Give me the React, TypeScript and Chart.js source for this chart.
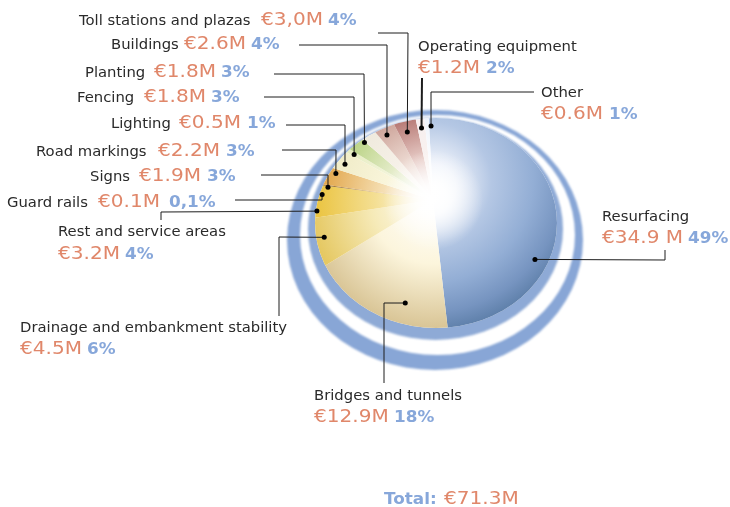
import React, { useEffect, useRef } from "react";
import { Chart, registerables } from "chart.js";

Chart.register(...registerables);

const categories = ["Resurfacing","Bridges and tunnels","Drainage and embankment stability","Rest and service areas","Guard rails","Signs","Road markings","Lighting","Fencing","Planting","Buildings","Toll stations and plazas","Operating equipment","Other"];
const amounts = [34.9,12.9,4.5,3.2,0.1,1.9,2.2,0.5,1.8,1.8,2.6,3.0,1.2,0.6];
const amountLabels = ["€34.9 M","€12.9M","€4.5M","€3.2M","€0.1M","€1.9M","€2.2M","€0.5M","€1.8M","€1.8M","€2.6M","€3,0M","€1.2M","€0.6M"];
const percentLabels = ["49%","18%","6%","4%","0,1%","3%","3%","1%","3%","3%","4%","4%","2%","1%"];
const totalLabel = "Total:";
const totalAmount = "€71.3M";

// styling: mid and rim colours of each wedge
const midColors = ["#b4c7e4","#fcf5dc","#f6eab8","#f4df94","#dcb87c","#f4dcae","#f9f5da","#f3f4da","#e6edcc","#f7f1e9","#eedcd4","#e8cdc8","#f9f2f0","#fbfcfe"];
const rimColors = ["#53769f","#d9c596","#e5c862","#ebc544","#7a4f1a","#e3a950","#f0ecc8","#e6ecc0","#bcd488","#efeadd","#cfa79d","#b97d78","#f6eeee","#eef3fb"];

type Leader = { nudge: number; r: number; path: number[][]; w?: number };
const leaders: Leader[] = [
  { nudge: 35, r: 118, path: [[665,260],[665,250]] },
  { nudge: -11, r: 106.7, path: [[384,303],[384,383]] },
  { nudge: 1, r: 115, path: [[279,237],[279,316]] },
  { nudge: -5, r: 116.6, path: [[161,212],[161,220]] },
  { nudge: -5, r: 111, path: [[322,200],[235,200]] },
  { nudge: -6, r: 105.8, path: [[328,175],[261,175]] },
  { nudge: -8, r: 100.7, path: [[336,150],[282,150]] },
  { nudge: -8, r: 95, path: [[345,125],[286,125]] },
  { nudge: -6, r: 91, path: [[354,97],[264,97]] },
  { nudge: -5, r: 89.5, path: [[364,74],[274,74]] },
  { nudge: -1.5, r: 79.6, path: [[387,45],[299,45]] },
  { nudge: -1, r: 72.8, path: [[408,33],[378,33]] },
  { nudge: 0, r: 72.8, path: [[422,78]], w: 2 },
  { nudge: 3, r: 74, path: [[431,92],[534,92]] },
];

// label layout: name x,y ; amount x,y ; percent x
const labelPos = [
  [602,221,602,243,688],
  [314,400,314,422,394],
  [20,332,20,354,87],
  [58,236,58,259,125],
  [7,207,98,207,169],
  [90,181,139,181,207],
  [36,156,158,156,226],
  [111,128,179,128,247],
  [77,102,144,102,211],
  [85,77,154,77,221],
  [111,49,184,49,251],
  [79,25,261,25,328],
  [418,51,418,73,486],
  [541,97,541,119,609],
];

const PIE = { cx: 436, cy: 223, rx: 121, ry: 105 };
const NAME_COLOR = "#2a2a2a";
const AMOUNT_COLOR = "#e0876a";
const PERCENT_COLOR = "#87a7da";

function rimDistance(ax: number, ay: number, angle: number) {
  const dx = Math.cos(angle), dy = Math.sin(angle);
  const ox = (ax - PIE.cx) / PIE.rx, oy = (ay - PIE.cy) / PIE.ry;
  const px = dx / PIE.rx, py = dy / PIE.ry;
  const a = px * px + py * py, b = 2 * (ox * px + oy * py), c = ox * ox + oy * oy - 1;
  return (-b + Math.sqrt(b * b - 4 * a * c)) / (2 * a);
}

function seg(ctx: CanvasRenderingContext2D, text: string, x: number, y: number, font: string, color: string, sx: number) {
  ctx.save();
  ctx.font = font;
  ctx.fillStyle = color;
  ctx.textBaseline = "alphabetic";
  ctx.textAlign = "left";
  ctx.translate(x, y);
  ctx.scale(sx, 1);
  ctx.fillText(text, 0, 0);
  ctx.restore();
}

const NAME_FONT = '14.8px "DejaVu Sans"';
const AMOUNT_FONT = '17px "DejaVu Sans"';
const PERCENT_FONT = 'bold 16.5px "DejaVu Sans"';
const NAME_SX = 1.0;
const AMOUNT_SX = 1.18;
const PERCENT_SX = 1.02;

const artPlugin = {
  id: "art",
  beforeDatasetsDraw(chart: any) {
    const ctx: CanvasRenderingContext2D = chart.ctx;
    const ell = (x: number, y: number, rx: number, ry: number, c: string) => {
      ctx.fillStyle = c;
      ctx.beginPath();
      ctx.ellipse(x, y, rx, ry, 0, 0, Math.PI * 2);
      ctx.fill();
    };
    ctx.save();
    ctx.filter = "blur(1px)";
    ell(435, 240, 148, 130, "#88a6d6");
    ell(437.5, 235, 137.5, 120, "#ffffff");
    ell(435.5, 229, 127.5, 111, "#8eaad6");
    ctx.restore();
    ctx.save();
    ctx.filter = "blur(0.7px)";
    ell(PIE.cx, PIE.cy, PIE.rx, PIE.ry, "#ffffff");
    ctx.restore();
    ctx.save();
    ctx.beginPath();
    ctx.ellipse(PIE.cx, PIE.cy, PIE.rx, PIE.ry, 0, 0, Math.PI * 2);
    ctx.clip();
  },
  afterDatasetsDraw(chart: any) {
    const ctx: CanvasRenderingContext2D = chart.ctx;
    const arcs = chart.getDatasetMeta(0).data;
    const ax = arcs[0].x, ay = arcs[0].y;
    const glow = ctx.createRadialGradient(ax, ay, 0, ax, ay, 50);
    glow.addColorStop(0, "rgba(255,255,255,1)");
    glow.addColorStop(0.3, "rgba(255,255,255,0.85)");
    glow.addColorStop(1, "rgba(255,255,255,0)");
    ctx.fillStyle = glow;
    ctx.fillRect(ax - 52, ay - 52, 104, 104);
    ctx.restore();

    categories.forEach((_, i) => {
      const arc = arcs[i];
      const l = leaders[i];
      const ang = (arc.startAngle + arc.endAngle) / 2 + (l.nudge * Math.PI) / 180;
      const dx = arc.x + l.r * Math.cos(ang);
      const dy = arc.y + l.r * Math.sin(ang);
      ctx.strokeStyle = "#1c1c1c";
      ctx.lineWidth = l.w ?? 1;
      ctx.beginPath();
      ctx.moveTo(dx, dy);
      l.path.forEach((p) => ctx.lineTo(p[0], p[1]));
      ctx.stroke();
      ctx.fillStyle = "#000";
      ctx.beginPath();
      ctx.arc(dx, dy, 2.5, 0, Math.PI * 2);
      ctx.fill();
    });

    categories.forEach((name, i) => {
      const [nx, ny, ax2, ay2, px] = labelPos[i];
      seg(ctx, name, nx, ny, NAME_FONT, NAME_COLOR, NAME_SX);
      seg(ctx, amountLabels[i], ax2, ay2, AMOUNT_FONT, AMOUNT_COLOR, AMOUNT_SX);
      seg(ctx, percentLabels[i], px, ay2, PERCENT_FONT, PERCENT_COLOR, PERCENT_SX);
    });
    seg(ctx, totalLabel, 384, 504, PERCENT_FONT, PERCENT_COLOR, PERCENT_SX);
    seg(ctx, totalAmount, 444, 504, AMOUNT_FONT, AMOUNT_COLOR, AMOUNT_SX);
  },
};

export default function App() {
  const ref = useRef<HTMLCanvasElement>(null);
  useEffect(() => {
    const chart = new Chart(ref.current!, {
      type: "pie",
      data: {
        labels: categories,
        datasets: [
          {
            data: amounts,
            borderWidth: 0,
            backgroundColor: (c: any) => {
              const area = c.chart.chartArea;
              const i = c.dataIndex;
              if (!area) return midColors[i];
              const g = c.chart.ctx;
              const ax = (area.left + area.right) / 2;
              const ay = (area.top + area.bottom) / 2;
              if (i === 0) {
                const grad = g.createRadialGradient(ax, ay - 10, 0, ax - 8, ay - 30, 170);
                grad.addColorStop(0, "#ffffff");
                grad.addColorStop(0.14, "#eef2fa");
                grad.addColorStop(0.36, midColors[0]);
                grad.addColorStop(0.62, "#93aed5");
                grad.addColorStop(0.82, "#7694c0");
                grad.addColorStop(1, rimColors[0]);
                return grad;
              }
              const total = amounts.reduce((s, v) => s + v, 0);
              const before = amounts.slice(0, i).reduce((s, v) => s + v, 0) + amounts[i] / 2;
              const ang = -Math.PI / 2 + (-3 * Math.PI) / 180 + (before / total) * Math.PI * 2;
              const rim = rimDistance(ax, ay, ang);
              const grad = g.createRadialGradient(ax, ay, 0, ax, ay, rim);
              grad.addColorStop(0, "#ffffff");
              grad.addColorStop(0.5, midColors[i]);
              grad.addColorStop(1, rimColors[i]);
              return grad;
            },
          },
        ],
      },
      options: {
        responsive: false,
        animation: false,
        rotation: -3,
        layout: { padding: { left: 283, right: 147, top: 50, bottom: 157 } },
        plugins: { legend: { display: false }, tooltip: { enabled: false } },
      },
      plugins: [artPlugin],
    } as any);
    return () => chart.destroy();
  }, []);
  return (
    <div style={{ position: "absolute", left: 0, top: 0, width: 730, height: 507, background: "#fff" }}>
      <canvas ref={ref} width={730} height={507} style={{ display: "block" }} />
    </div>
  );
}
